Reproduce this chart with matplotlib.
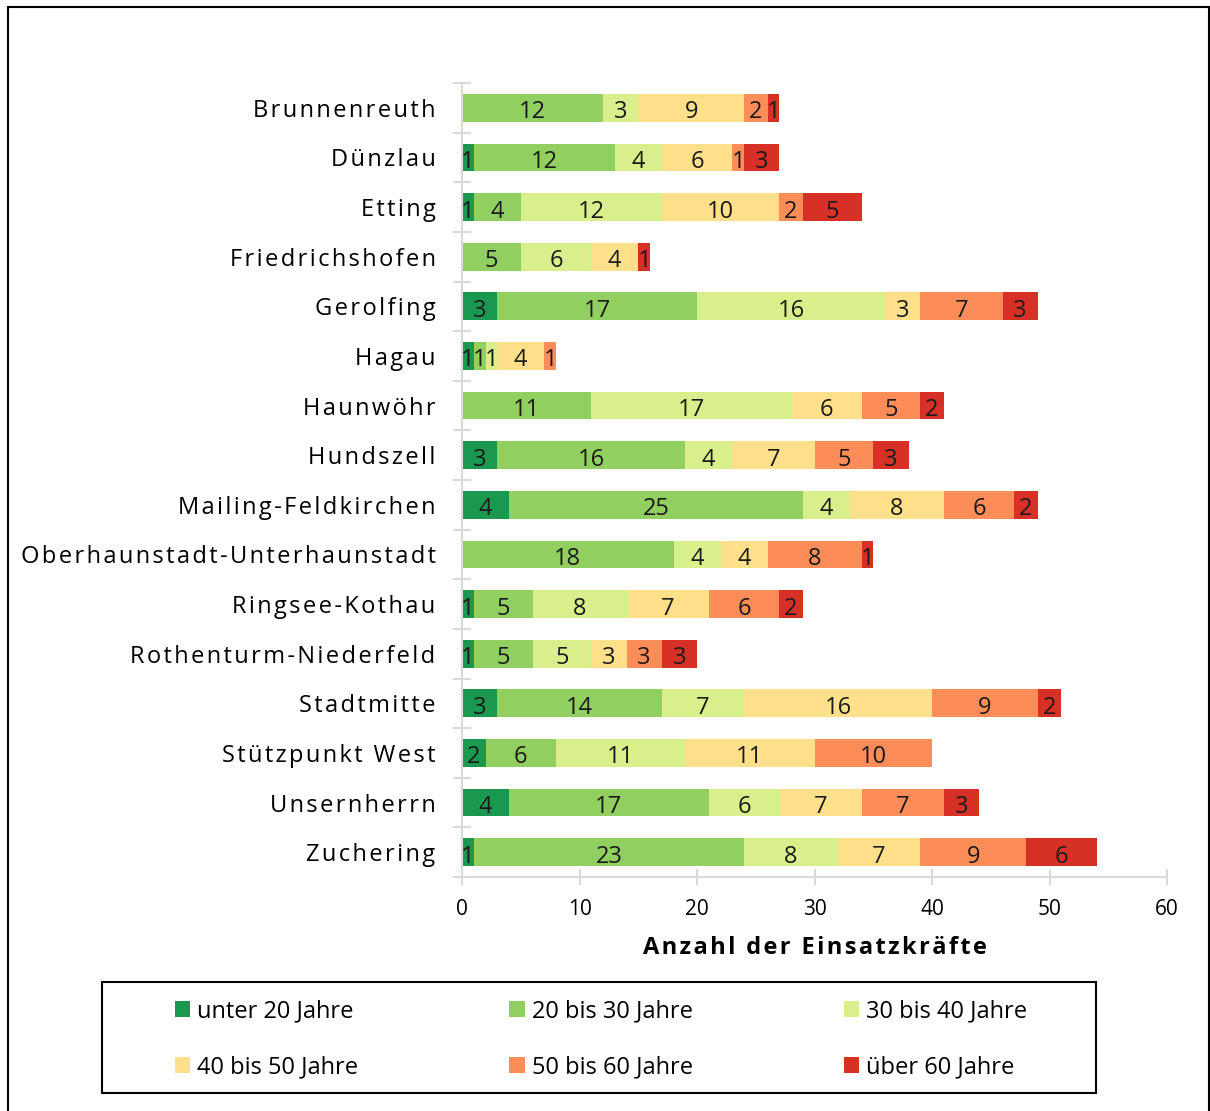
import numpy as np
import matplotlib
matplotlib.use("Agg")
from matplotlib import pyplot as plt
from matplotlib.patches import Rectangle

plt.rcParams['font.family'] = ['Open Sans', 'DejaVu Sans']

stations = ["Brunnenreuth", "Dünzlau", "Etting", "Friedrichshofen", "Gerolfing",
            "Hagau", "Haunwöhr", "Hundszell", "Mailing-Feldkirchen",
            "Oberhaunstadt-Unterhaunstadt", "Ringsee-Kothau", "Rothenturm-Niederfeld",
            "Stadtmitte", "Stützpunkt West", "Unsernherrn", "Zuchering"]

age_groups = ["unter 20 Jahre", "20 bis 30 Jahre", "30 bis 40 Jahre",
              "40 bis 50 Jahre", "50 bis 60 Jahre", "über 60 Jahre"]

under20 = [0, 1, 1, 0, 3, 1, 0, 3, 4, 0, 1, 1, 3, 2, 4, 1]
age20_30 = [12, 12, 4, 5, 17, 1, 11, 16, 25, 18, 5, 5, 14, 6, 17, 23]
age30_40 = [3, 4, 12, 6, 16, 1, 17, 4, 4, 4, 8, 5, 7, 11, 6, 8]
age40_50 = [9, 6, 10, 4, 3, 4, 6, 7, 8, 4, 7, 3, 16, 11, 7, 7]
age50_60 = [2, 1, 2, 0, 7, 1, 5, 5, 6, 8, 6, 3, 9, 10, 7, 9]
over60 = [1, 3, 5, 1, 3, 0, 2, 3, 2, 1, 2, 3, 2, 0, 3, 6]

colors = ["#1a9850", "#91cf60", "#d9ef8b", "#fee08b", "#fc8d59", "#d73027"]
grey = "#d9d9d9"


def spaced(s):
    # wide letter spacing like in the original
    return "\u200a".join(s)


series = [under20, age20_30, age30_40, age40_50, age50_60, over60]

fig = plt.figure(figsize=(12.1, 11.11), dpi=100)
ax = fig.add_axes([462 / 1210, 1 - 877 / 1111, 705 / 1210, 794 / 1111])

y = np.arange(len(stations))
left = np.zeros(len(stations))
handles = []
for vals, col, name in zip(series, colors, age_groups):
    vals = np.array(vals)
    bars = ax.barh(y, vals, left=left, height=0.56, color=col, label=name)
    handles.append(bars)
    for yi, (l, v) in enumerate(zip(left, vals)):
        if v > 0:
            ax.text(l + v / 2, yi + 0.03, str(v), ha="center", va="center_baseline",
                    fontsize=17, color="#1a1a1a")
    left = left + vals

ax.set_xlim(0, 60)
ax.set_ylim(len(stations) - 0.5, -0.5)
ax.set_xticks(range(0, 61, 10))
ax.set_yticks(y)
ax.set_yticklabels([spaced(s) for s in stations], fontsize=17)
ax.set_yticks(np.arange(-0.5, len(stations), 1), minor=True)
ax.tick_params(axis="y", which="major", length=0, pad=19)
ax.tick_params(axis="y", which="minor", length=13, direction="inout", color=grey, width=1.5)
ax.tick_params(axis="x", length=11, direction="inout", color=grey, width=1.5,
               labelsize=15, pad=10)
for s in ["top", "right"]:
    ax.spines[s].set_visible(False)
for s in ["left", "bottom"]:
    ax.spines[s].set_color(grey)
    ax.spines[s].set_linewidth(1.5)

ax.set_xlabel(spaced("Anzahl der Einsatzkräfte"), fontsize=17, fontweight="bold", labelpad=12)

# legend in row order, box drawn separately
order = [0, 3, 1, 4, 2, 5]
leg = fig.legend([handles[i] for i in order], [age_groups[i] for i in order],
                 loc="center", ncol=3,
                 bbox_to_anchor=(601 / 1210, 1 - 1039 / 1111),
                 fontsize=17, frameon=False,
                 handlelength=0.65, handleheight=0.65, handletextpad=0.3,
                 columnspacing=6.4, labelspacing=1.35)

fig.patches.append(Rectangle((102 / 1210, 1 - 1093 / 1111), 994 / 1210, 111 / 1111,
                             transform=fig.transFigure, fill=False,
                             edgecolor="black", linewidth=1.5))

# outer border
fig.patches.append(Rectangle((8 / 1210, -0.01), 1201 / 1210, 1 - 7 / 1111 + 0.01,
                             transform=fig.transFigure, fill=False,
                             edgecolor="black", linewidth=1.5))

fig.savefig("out.png", dpi=100)
